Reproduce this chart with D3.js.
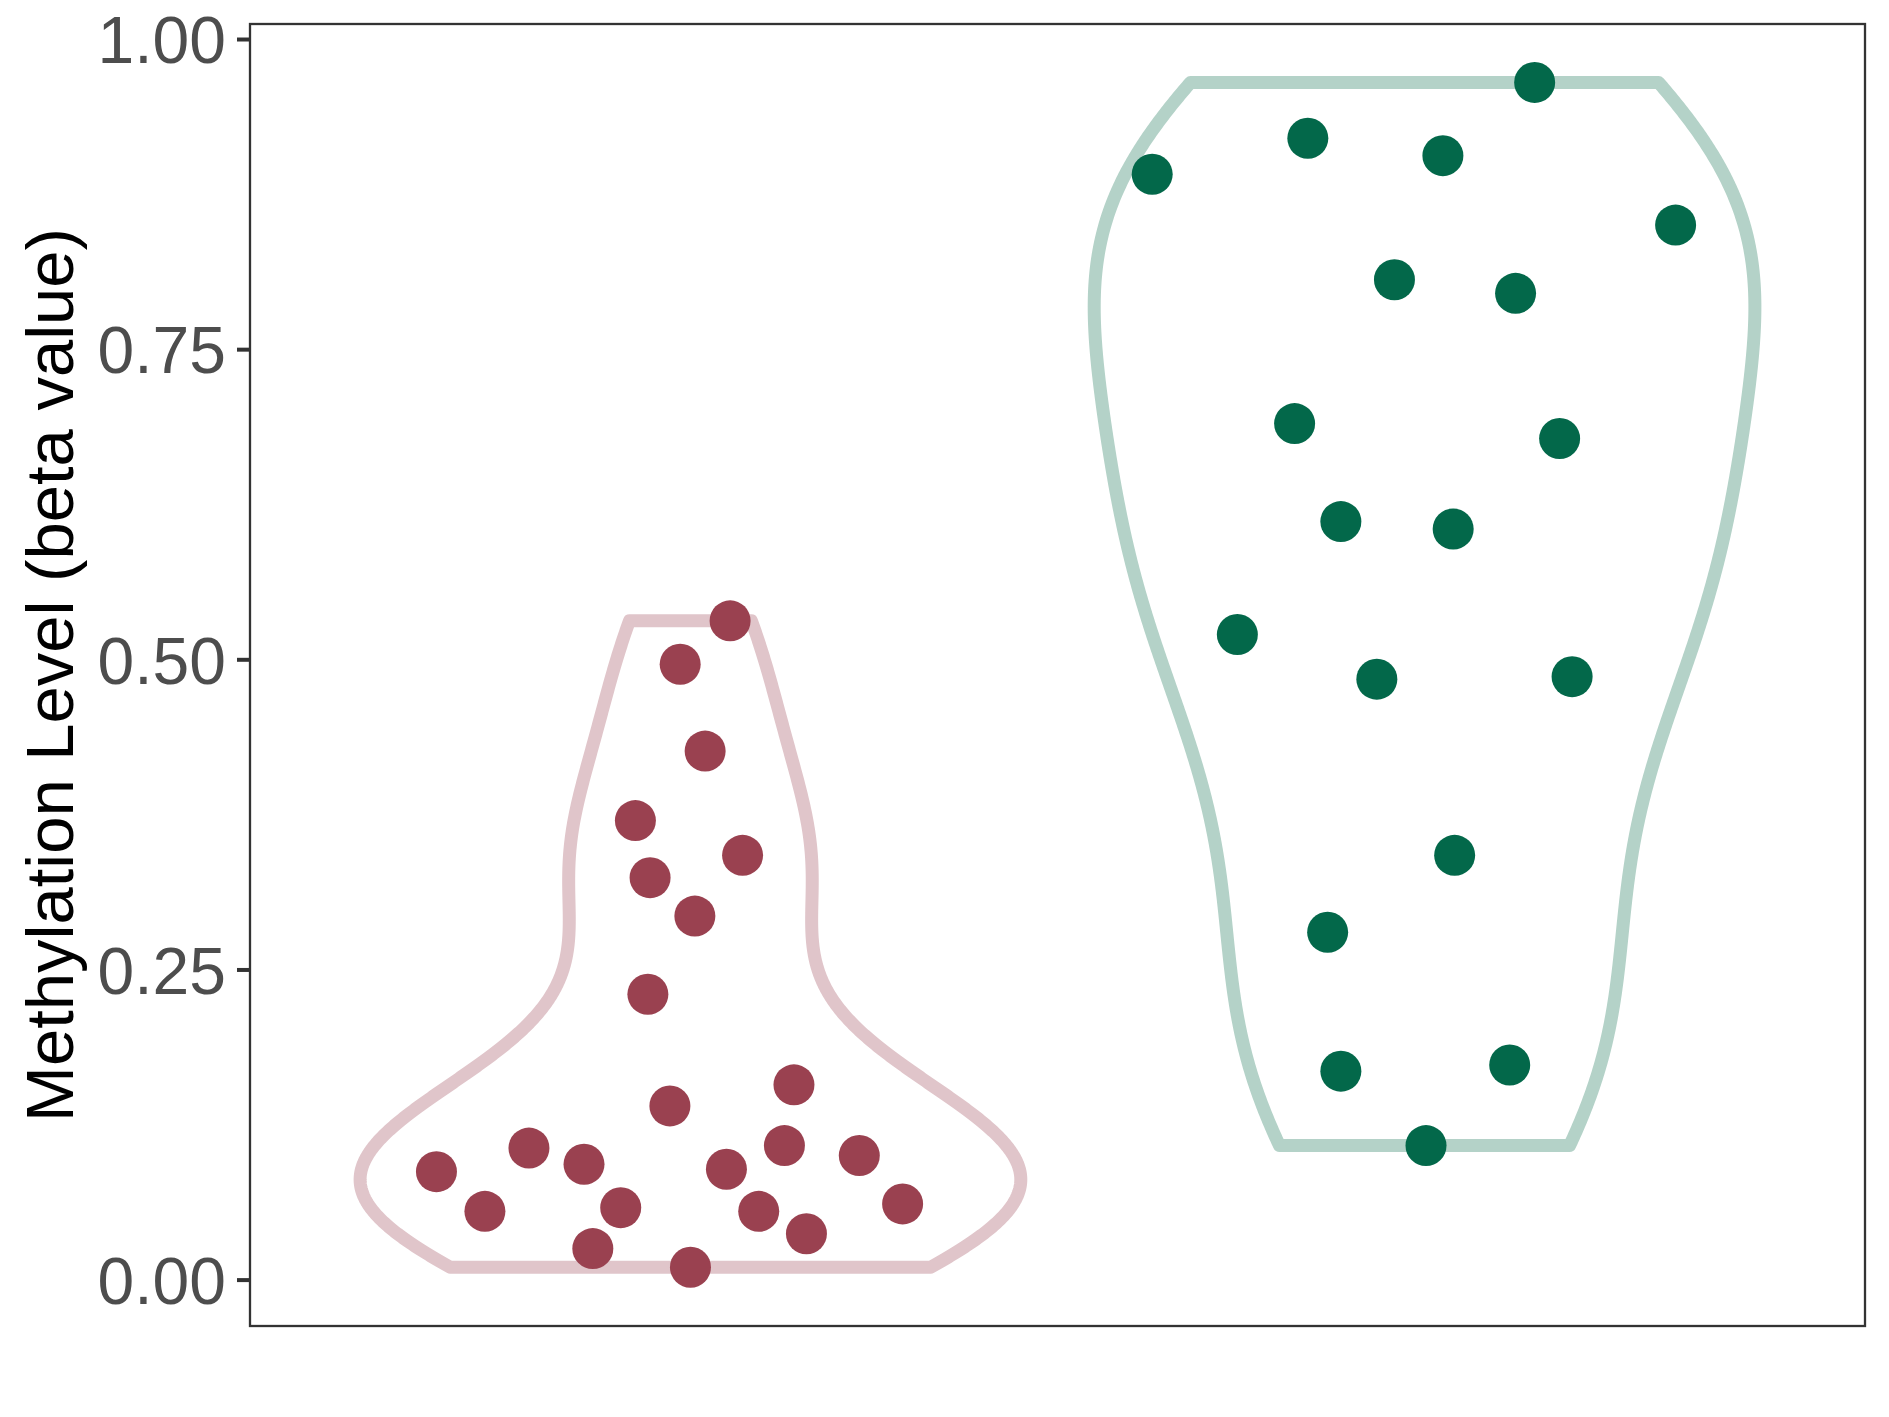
<!DOCTYPE html>
<html>
<head>
<meta charset="utf-8">
<script src="https://cdn.jsdelivr.net/npm/d3@7"></script>
<style>
  body { margin: 0; background: #fff; }
  text { font-family: "Liberation Sans", Arial, Helvetica, sans-serif; }
</style>
</head>
<body>
<div id="chart"></div>
<script>
// two groups, no x labels shown in the chart
var groups = ["group1", "group2"];

// methylation values (beta) and horizontal jitter
var valuesA = [0.531, 0.496, 0.426, 0.370, 0.342, 0.324, 0.293, 0.230, 0.157, 0.140,
               0.106, 0.108, 0.100, 0.087, 0.093, 0.089, 0.055, 0.058, 0.055, 0.061,
               0.037, 0.025, 0.010];
var jitterA = [0.054, -0.014, 0.020, -0.075, 0.071, -0.055, 0.006, -0.058, 0.141, -0.028,
               -0.220, 0.128, 0.230, -0.346, -0.145, 0.049, -0.280, -0.095, 0.093, 0.289,
               0.158, -0.133, 0.000];

var valuesB = [0.965, 0.920, 0.891, 0.906, 0.850, 0.806, 0.795, 0.690, 0.678, 0.611,
               0.605, 0.520, 0.484, 0.486, 0.342, 0.280, 0.168, 0.173, 0.108];
var jitterB = [0.150, -0.159, -0.371, 0.025, 0.342, -0.041, 0.124, -0.177, 0.184, -0.114,
               0.039, -0.255, -0.065, 0.201, 0.041, -0.132, -0.114, 0.116, 0.002];

var yTicks = [0, 0.25, 0.5, 0.75, 1];
var yTitle = "Methylation Level (beta value)";

var pointColors = ["#9A4150", "#03684A"];
var outlineColors = ["#E0C5CA", "#B4D2C8"];

var W = 1889, H = 1417;
var margin = {top: 24, right: 24, bottom: 91, left: 250};
var width = W - margin.left - margin.right,
    height = H - margin.top - margin.bottom;

var svg = d3.select("#chart").append("svg")
    .attr("width", W)
    .attr("height", H);

var g = svg.append("g")
    .attr("transform", "translate(" + margin.left + "," + margin.top + ")");

// discrete x: ggplot style 0.6 expansion each side
var x = d3.scaleLinear().domain([0.4, 2.6]).range([0, width]);
var y = d3.scaleLinear().domain([-0.0374, 1.0121]).range([height, 0]);

// gaussian kde with R's bw.nrd0, trimmed to data range
function kde(values) {
    var n = values.length;
    var sorted = values.slice().sort(d3.ascending);
    var sd = d3.deviation(values);
    var iqr = (d3.quantile(sorted, 0.75) - d3.quantile(sorted, 0.25)) / 1.34;
    var lo = Math.min(sd, iqr);
    var bw = 0.9 * lo * Math.pow(n, -0.2);
    var mn = sorted[0], mx = sorted[n - 1];
    var out = [];
    for (var i = 0; i < 512; i++) {
        var v = mn + (mx - mn) * i / 511;
        var s = 0;
        values.forEach(function(d) {
            var u = (v - d) / bw;
            s += Math.exp(-0.5 * u * u);
        });
        out.push({v: v, dens: s / (n * bw * Math.sqrt(2 * Math.PI))});
    }
    var maxD = d3.max(out, function(d) { return d.dens; });
    out.forEach(function(d) { d.w = d.dens / maxD * 0.45; });
    return out;
}

var line = d3.line()
    .x(function(d) { return x(d[0]); })
    .y(function(d) { return y(d[1]); });

var allValues = [valuesA, valuesB];
var allJitter = [jitterA, jitterB];

groups.forEach(function(grp, gi) {
    var c = gi + 1;
    var dens = kde(allValues[gi]);
    var pts = [];
    dens.forEach(function(d) { pts.push([c - d.w, d.v]); });
    dens.slice().reverse().forEach(function(d) { pts.push([c + d.w, d.v]); });

    g.append("path")
        .attr("d", line(pts) + "Z")
        .attr("fill", "none")
        .attr("stroke", outlineColors[gi])
        .attr("stroke-width", 13)
        .attr("stroke-linejoin", "round");
});

groups.forEach(function(grp, gi) {
    var c = gi + 1;
    g.selectAll(".dot" + gi)
        .data(allValues[gi])
      .enter().append("circle")
        .attr("class", "dot" + gi)
        .attr("cx", function(d, i) { return x(c + allJitter[gi][i]); })
        .attr("cy", function(d) { return y(d); })
        .attr("r", 20.5)
        .attr("fill", pointColors[gi]);
});

// panel border
g.append("rect")
    .attr("x", 0)
    .attr("y", 0)
    .attr("width", width)
    .attr("height", height)
    .attr("fill", "none")
    .attr("stroke", "#333333")
    .attr("stroke-width", 2.3);

// y axis
var yAxis = g.append("g")
    .call(d3.axisLeft(y).tickValues(yTicks).tickFormat(d3.format(".2f")).tickSize(13).tickPadding(11));
yAxis.select(".domain").remove();
yAxis.selectAll(".tick line")
    .attr("stroke", "#333333")
    .attr("stroke-width", 4);
yAxis.selectAll(".tick text")
    .attr("fill", "#4D4D4D")
    .attr("dy", "0.36em")
    .style("font-size", "66px")
    .style("font-family", "'Liberation Sans', Arial, Helvetica, sans-serif");

svg.append("text")
    .attr("transform", "translate(73," + (margin.top + height / 2) + ") rotate(-90)")
    .attr("text-anchor", "middle")
    .attr("fill", "#000")
    .style("font-size", "67px")
    .text(yTitle);
</script>
</body>
</html>
